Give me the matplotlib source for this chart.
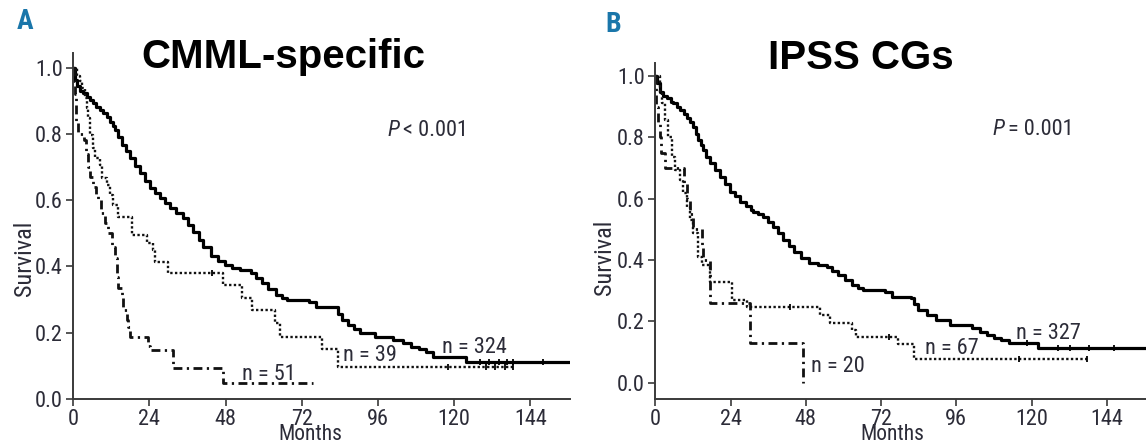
import matplotlib
matplotlib.use("Agg")
import matplotlib.pyplot as plt
from matplotlib import font_manager as fm

# ---------------- data ----------------
month_ticks = [0, 24, 48, 72, 96, 120, 144]
surv_ticks = [0.0, 0.2, 0.4, 0.6, 0.8, 1.0]

# Panel A: CMML-specific cytogenetic risk groups
a_low_t = [0, 0.5, 1.1, 2.1, 3.2, 4.2, 5.2, 6.3, 7.3, 8.4, 9.5, 10.5, 11.6, 12.4, 13.1,
           14.2, 15.2, 16.5, 17.9, 19.5, 21, 22.6, 24.2, 25.8, 27.3, 28.9, 30.5, 32.5,
           34.6, 36.2, 37.8, 39.5, 41, 43.3, 45.5, 47.9, 50, 52.5, 55.9, 57.5, 59.4,
           61.5, 64, 65.7, 67.4, 74.3, 76.6, 83.5, 84.6, 86.5, 88.5, 90.4, 95, 100.7,
           104, 106.4, 109, 111, 113.3, 123.6]
a_low_s = [1.0, 0.963, 0.943, 0.93, 0.922, 0.912, 0.902, 0.893, 0.882, 0.872, 0.862, 0.85,
           0.837, 0.825, 0.812, 0.79, 0.767, 0.747, 0.727, 0.704, 0.681, 0.659, 0.636,
           0.621, 0.606, 0.591, 0.576, 0.56, 0.545, 0.525, 0.505, 0.48, 0.46, 0.43, 0.415,
           0.404, 0.395, 0.389, 0.379, 0.364, 0.349, 0.332, 0.314, 0.306, 0.299, 0.294,
           0.279, 0.255, 0.238, 0.222, 0.21, 0.198, 0.188, 0.178, 0.168, 0.158, 0.15,
           0.143, 0.128, 0.113]
a_low_end = 160
a_low_cens = [128, 131, 134, 136.5, 138.6, 148]

a_int_t = [0, 1.2, 2.1, 2.6, 3.7, 4.2, 4.7, 5.3, 6.3, 6.8, 8.4, 8.9, 10.5, 11.6, 12.6,
           14.2, 18.4, 23.1, 25.2, 25.7, 29.9, 47.2, 53.0, 56.2, 63.5, 65.1, 78.3, 83.5]
a_int_s = [1.0, 0.974, 0.96, 0.938, 0.908, 0.877, 0.847, 0.797, 0.757, 0.727, 0.706,
           0.666, 0.646, 0.616, 0.586, 0.55, 0.495, 0.47, 0.45, 0.414, 0.379, 0.344,
           0.304, 0.269, 0.228, 0.188, 0.15, 0.098]
a_int_end = 138.6
a_int_cens = [43.6, 118, 130, 133, 136, 138.6]

a_high_t = [0, 0.2, 0.5, 0.8, 1.0, 1.4, 3.5, 4.0, 4.5, 5.3, 6.3, 7.0, 7.9, 8.8, 10.0,
            11.0, 12.1, 13.1, 13.7, 14.2, 15.2, 15.7, 16.8, 17.3, 17.9, 23.6, 24.3,
            31.5, 47.2]
a_high_s = [1.0, 0.96, 0.92, 0.88, 0.84, 0.80, 0.78, 0.74, 0.70, 0.67, 0.64, 0.62, 0.60,
            0.56, 0.53, 0.50, 0.46, 0.425, 0.369, 0.334, 0.309, 0.269, 0.238, 0.218,
            0.188, 0.16, 0.148, 0.093, 0.047]
a_high_end = 75.4

# Panel B: IPSS cytogenetic groups
b_low_t = [0, 0.4, 1.5, 2.5, 3.6, 4.9, 5.7, 6.8, 7.9, 9.0, 10, 11, 12.1, 13, 13.7, 14.5,
           15.3, 16.3, 17.4, 19, 20.6, 22.3, 23.8, 25.4, 27, 29, 30.4, 31.3, 32.8, 34.4,
           36, 37.6, 39.2, 40.8, 42.5, 44.3, 46.5, 48.9, 52, 54.7, 56.5, 58.2, 60.5,
           62.8, 64.5, 66.3, 73.2, 75.6, 81.4, 82.5, 83.7, 86.5, 89.5, 94.1, 101, 103.5,
           105.7, 108, 110.3, 112.7, 121.9]
b_low_s = [1.0, 0.976, 0.949, 0.935, 0.927, 0.915, 0.911, 0.9, 0.889, 0.876, 0.862,
           0.849, 0.835, 0.812, 0.791, 0.775, 0.759, 0.737, 0.715, 0.693, 0.672, 0.648,
           0.623, 0.607, 0.59, 0.575, 0.563, 0.558, 0.55, 0.541, 0.525, 0.509, 0.487,
           0.465, 0.446, 0.427, 0.408, 0.389, 0.383, 0.378, 0.365, 0.351, 0.335, 0.318,
           0.31, 0.302, 0.297, 0.28, 0.275, 0.256, 0.237, 0.22, 0.204, 0.188, 0.177,
           0.166, 0.155, 0.147, 0.139, 0.128, 0.112]
b_low_end = 160
b_low_cens = [118.4, 128.3, 132.4, 138.2, 146.3]

b_int_t = [0, 1.5, 2.0, 3.1, 4.1, 5.2, 6.3, 7.9, 8.9, 10.0, 11.1, 12.1, 13.7, 14.8, 17.4,
           24.4, 29.1, 52.5, 55.7, 62.6, 64.0, 77.3, 82.5]
b_int_s = [1.0, 0.944, 0.91, 0.857, 0.80, 0.737, 0.694, 0.66, 0.617, 0.574, 0.53, 0.487,
           0.41, 0.384, 0.329, 0.27, 0.246, 0.221, 0.196, 0.172, 0.15, 0.125, 0.078]
b_int_end = 137.6
b_int_cens = [43.1, 74.4, 116.1, 137.6]

b_high_t = [0, 0.2, 0.3, 0.8, 1.5, 1.8, 3.0, 9.0, 10.0, 11.0, 12.0, 15.0, 15.3, 17.4,
            30.2, 47.2]
b_high_s = [1.0, 0.95, 0.90, 0.85, 0.80, 0.75, 0.70, 0.65, 0.60, 0.55, 0.50, 0.45, 0.40,
            0.259, 0.13, 0.0]
b_high_end = 47.2


# ---------------- fonts ----------------
def _is_bold(e):
    w = e.weight
    if isinstance(w, str):
        return 'bold' in w.lower() or 'heavy' in w.lower() or 'black' in w.lower()
    return w >= 600


def _narrow_file(kind):
    """Look for a condensed sans face: kind is 'regular', 'italic' or 'bold'."""
    prefs = ['liberationsansnarrow', 'robotocondensed', 'notosans', 'opensans',
             'dejavusanscondensed', 'lato', 'inter', '']
    best = None
    best_rank = None
    for e in fm.fontManager.ttflist:
        fn = e.fname.lower().replace('-', '').replace('_', '').replace(' ', '')
        name = e.name.lower()
        narrow = ('narrow' in fn or 'condensed' in fn or 'narrow' in name
                  or 'condensed' in name or str(e.stretch) == 'condensed')
        if not narrow:
            continue
        if any(w in fn for w in ('semicondensed', 'extracondensed', 'ultracondensed',
                                 'mono', 'serif')):
            continue
        italic = e.style in ('italic', 'oblique') or 'italic' in fn or 'oblique' in fn
        bold = _is_bold(e)
        if kind == 'regular' and (italic or bold):
            continue
        if kind == 'italic' and (not italic or bold):
            continue
        if kind == 'bold' and (italic or not bold):
            continue
        for r, p in enumerate(prefs):
            if p in fn:
                break
        if best_rank is None or r < best_rank:
            best, best_rank = e.fname, r
    return best


REG = _narrow_file('regular')
ITA = _narrow_file('italic')
BLD = _narrow_file('bold')


def fp(size, kind='regular'):
    path = {'regular': REG, 'italic': ITA, 'bold': BLD}[kind]
    if path:
        return fm.FontProperties(fname=path, size=size)
    fam = 'Liberation Sans'
    if kind == 'italic':
        return fm.FontProperties(family=fam, style='italic', size=size * 0.85)
    if kind == 'bold':
        return fm.FontProperties(family=fam, weight='bold', size=size * 0.85)
    return fm.FontProperties(family=fam, size=size * 0.85)


# ---------------- styling ----------------
W, H = 1146, 445
TXT = '#2c2c38'
AX = '#3a3a3a'
BLUE = '#1a76aa'

solid = dict(color='black', lw=2.3, linestyle='-')
dotted = dict(color='#111111', lw=1.7, linestyle=(0, (1, 1.0)))
dashdot = dict(color='#111111', lw=2.0, linestyle=(0, (3.2, 1.6, 0.8, 1.6)))


def km(ax, t, s, end, style, cens=None):
    tt = list(t) + [end]
    ss = list(s) + [s[-1]]
    ax.step(tt, ss, where='post', **style)
    if cens:
        vals = []
        for c in cens:
            v = s[0]
            for ti, si in zip(t, s):
                if ti <= c:
                    v = si
            vals.append(v)
        ax.plot(cens, vals, linestyle='none', marker='|', ms=5, mew=1.3,
                color='black')


def style_axes(ax, ylim):
    ax.set_xlim(0, 156.5)
    ax.set_ylim(*ylim)
    for side in ('top', 'right'):
        ax.spines[side].set_visible(False)
    for side in ('left', 'bottom'):
        ax.spines[side].set_color(AX)
        ax.spines[side].set_linewidth(1.4)
    ax.set_xticks(month_ticks)
    ax.set_xticklabels([str(m) for m in month_ticks])
    ax.set_yticks(surv_ticks)
    ax.set_yticklabels([f'{v:.1f}' for v in surv_ticks])
    ax.tick_params(axis='both', direction='out', length=5, width=1.2, color=AX,
                   labelcolor=TXT, pad=2.5)
    for lab in ax.get_xticklabels() + ax.get_yticklabels():
        lab.set_fontproperties(fp(16))
    ax.patch.set_alpha(0)


def ptext(ax, x, y, rest):
    # italic P followed by the rest of the statistic
    t = ax.text(x, y, 'P', fontproperties=fp(16, 'italic'), color=TXT, va='center')
    ax.annotate(rest, xy=(1, 0.5), xycoords=t, xytext=(2.5, 0),
                textcoords='offset points', va='center', ha='left',
                fontproperties=fp(16), color=TXT)


fig = plt.figure(figsize=(W / 100, H / 100), dpi=100)

axA = fig.add_axes([73.3 / W, 1 - 399 / H, (570 - 73.3) / W, (399 - 53) / H])
style_axes(axA, (0, 1.044))
km(axA, a_low_t, a_low_s, a_low_end, solid, a_low_cens)
km(axA, a_int_t, a_int_s, a_int_end, dotted, a_int_cens)
km(axA, a_high_t, a_high_s, a_high_end, dashdot)
ptext(axA, 99.1, 0.809, '< 0.001')
axA.text(116.1, 0.155, 'n = 324', fontproperties=fp(16), color=TXT, va='center')
axA.text(85.1, 0.13, 'n = 39', fontproperties=fp(16), color=TXT, va='center')
axA.text(53.1, 0.075, 'n = 51', fontproperties=fp(16), color=TXT, va='center')

axB = fig.add_axes([655.3 / W, 1 - 399 / H, (W - 655.3) / W, (399 - 63.3) / H])
style_axes(axB, (-0.053, 1.041))
km(axB, b_low_t, b_low_s, b_low_end, solid, b_low_cens)
km(axB, b_int_t, b_int_s, b_int_end, dotted, b_int_cens)
km(axB, b_high_t, b_high_s, b_high_end, dashdot)
ptext(axB, 107.4, 0.824, '= 0.001')
axB.text(115.0, 0.162, 'n = 327', fontproperties=fp(16), color=TXT, va='center')
axB.text(86.0, 0.11, 'n = 67', fontproperties=fp(16), color=TXT, va='center')
axB.text(49.8, 0.054, 'n = 20', fontproperties=fp(16), color=TXT, va='center')

# axis titles
for xs, ys in ((25, 258), (605, 257)):
    fig.text(xs / W, 1 - ys / H, 'Survival', rotation=90, fontproperties=fp(17.5),
             color=TXT, ha='center', va='center')
for xm in (310, 892):
    fig.text(xm / W, 1 - 440 / H, 'Months', fontproperties=fp(15.5), color=TXT,
             ha='center', va='baseline')

# panel letters and headings
fig.text(17 / W, 1 - 29 / H, 'A', fontproperties=fp(20, 'bold'), color=BLUE,
         va='baseline', ha='left')
fig.text(605 / W, 1 - 32 / H, 'B', fontproperties=fp(20, 'bold'), color=BLUE,
         va='baseline', ha='left')
fig.text(283 / W, 1 - 68 / H, 'CMML-specific', fontsize=29, weight='bold',
         family='Liberation Sans', color='black', ha='center', va='baseline')
fig.text(861 / W, 1 - 69 / H, 'IPSS CGs', fontsize=29, weight='bold',
         family='Liberation Sans', color='black', ha='center', va='baseline')

fig.savefig('out.png', dpi=100)
